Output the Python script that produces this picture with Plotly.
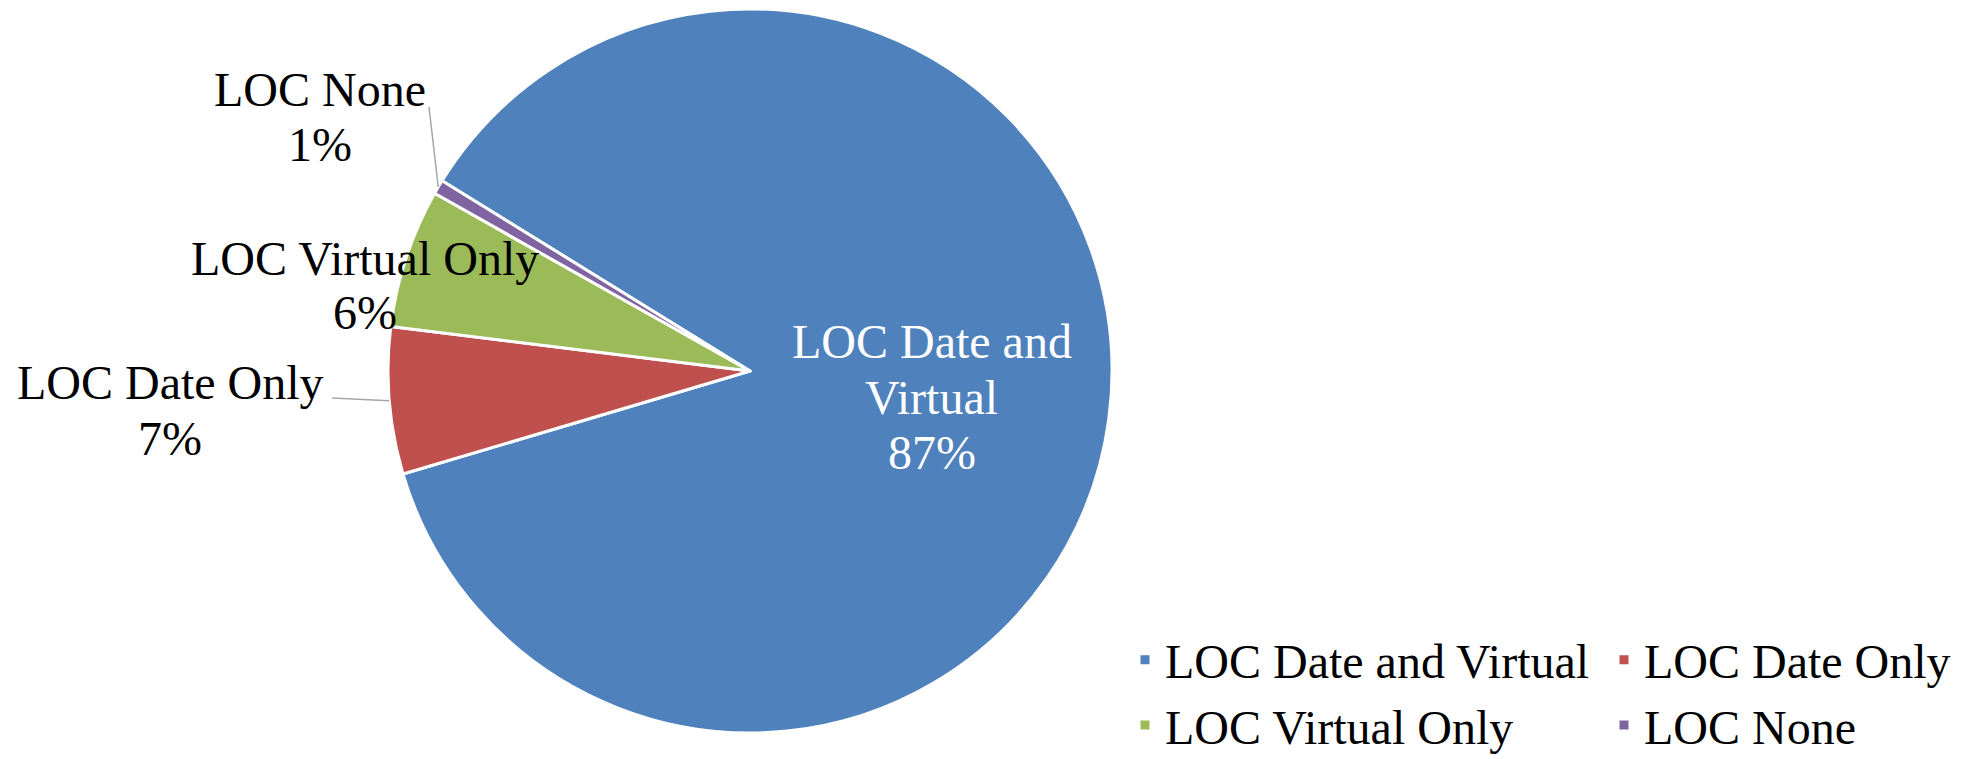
import math
import plotly.graph_objects as go

# Share of records by LOC status
labels = ["LOC Date and Virtual", "LOC Date Only", "LOC Virtual Only", "LOC None"]
values = [86.6, 6.56, 6.2, 0.64]
colors = ["#4F81BD", "#C0504D", "#9BBB59", "#8064A2"]

# Data-label text lines (category part) for each slice
label_lines = [["LOC Date and", "Virtual"], ["LOC Date Only"], ["LOC Virtual Only"], ["LOC None"]]

W, H = 1967, 759
PLOT_W = 1200          # plot-area width; the right margin hosts the legend
CX, CY, R = 750, 371, 362
START = -58.3          # first slice starts here, clockwise from 12 o'clock

FONT = "Liberation Serif, Times New Roman, serif"
FS = 48


def px(x):
    return x / PLOT_W


def py(y):
    return 1 - y / H


total = sum(values)
pct = [f"{round(v / total * 100)}%" for v in values]

# mid-angle of each slice (degrees clockwise from 12 o'clock)
mid_angles = []
acc = START
for v in values:
    span = v / total * 360
    mid_angles.append(acc + span / 2)
    acc += span


def edge_point(angle_deg):
    a = math.radians(angle_deg)
    return CX + R * math.sin(a), CY - R * math.cos(a)


fig = go.Figure(go.Pie(
    labels=labels,
    values=values,
    sort=False,
    direction="clockwise",
    rotation=START,
    marker=dict(colors=colors, line=dict(color="white", width=3)),
    textinfo="none",
    hoverinfo="label+percent",
    domain=dict(x=[px(CX - R), px(CX + R)], y=[py(CY + R), py(CY - R)]),
))

# label placement: centre x and line centre y values, text colour
label_pos = [
    (932, [341, 397, 452], "white"),
    (170, [382, 438], "black"),
    (365, [258, 312], "black"),
    (320, [90, 145], "black"),
]

annotations = []
for i, (x, ys, col) in enumerate(label_pos):
    lines = label_lines[i] + [pct[i]]
    for txt, y in zip(lines, ys):
        annotations.append(dict(
            x=px(x), y=py(y), xref="paper", yref="paper",
            text=txt, showarrow=False, xanchor="center", yanchor="middle",
            font=dict(family=FONT, size=FS, color=col),
        ))

# leader lines from outside labels to the slice edge
leader_start = {1: (332, 398), 3: (429, 107)}
shapes = []
for i, (x0, y0) in leader_start.items():
    x1, y1 = edge_point(mid_angles[i])
    shapes.append(dict(
        type="line", xref="paper", yref="paper",
        x0=px(x0), y0=py(y0), x1=px(x1), y1=py(y1),
        line=dict(color="#A6A6A6", width=1.5),
    ))

fig.update_layout(
    width=W, height=H,
    margin=dict(l=0, r=W - PLOT_W, t=0, b=0, autoexpand=False),
    paper_bgcolor="white",
    plot_bgcolor="white",
    annotations=annotations,
    shapes=shapes,
    showlegend=True,
    legend=dict(
        orientation="h",
        x=px(1125), xanchor="left",
        y=py(622), yanchor="top",
        entrywidth=434, entrywidthmode="pixels",
        font=dict(family=FONT, size=FS, color="black"),
        bgcolor="rgba(0,0,0,0)",
        traceorder="normal",
    ),
)

fig.write_html("out.html")
